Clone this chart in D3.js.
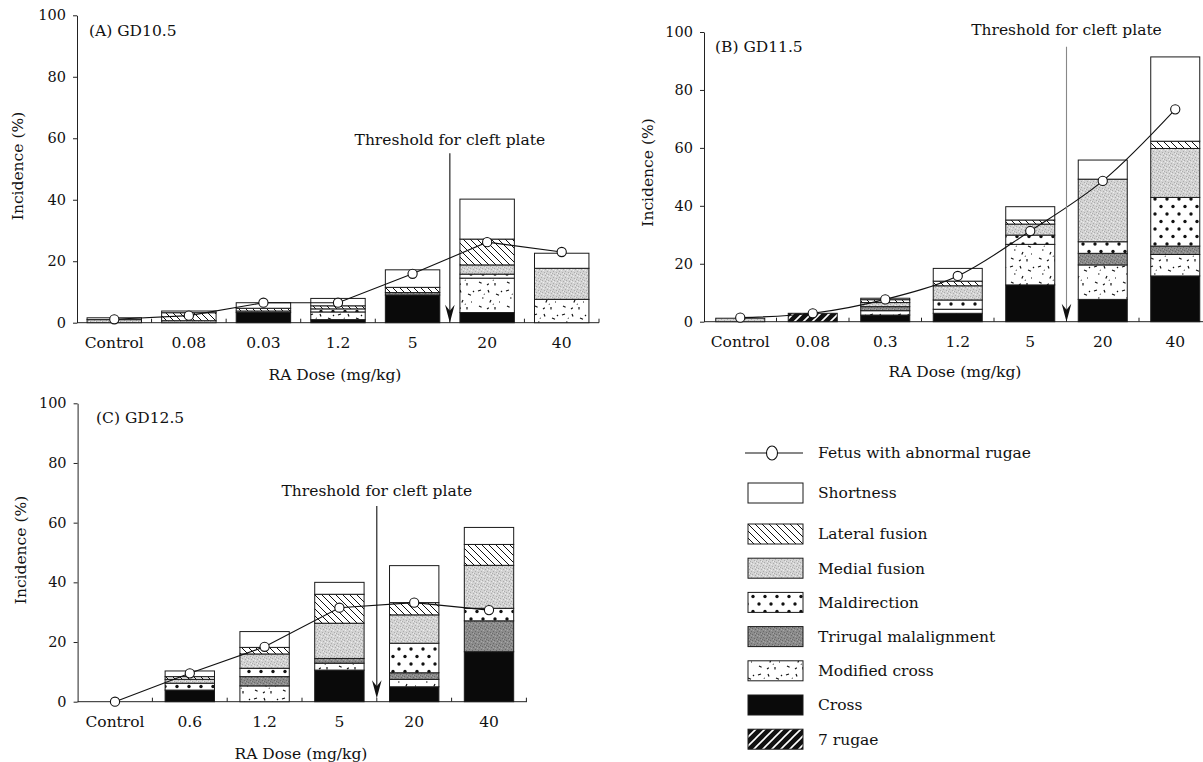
<!DOCTYPE html>
<html><head><meta charset="utf-8">
<script src="https://cdn.jsdelivr.net/npm/d3@7"></script>
<style>
html,body{margin:0;padding:0;background:#fff;}
svg{display:block;}
text{font-family:"DejaVu Serif",serif;fill:#111;}
</style></head><body>
<svg id="chart" width="1203" height="762"></svg>
<script>
// ---------------- DATA ----------------
const seriesKeys   = ["sevenRugae","cross","modifiedCross","trirugal","maldirection","medial","lateral","shortness"];
const seriesLabels = ["7 rugae","Cross","Modified cross","Trirugal malalignment","Maldirection","Medial fusion","Lateral fusion","Shortness"];
const lineLabel = "Fetus with abnormal rugae";
const yTickValues = [0,20,40,60,80,100];
const thresholdText = "Threshold for cleft plate";
const xTitle = "RA Dose (mg/kg)";
const yTitle = "Incidence (%)";

// Panel A  GD10.5
const categoriesA    = ["Control","0.08","0.03","1.2","5","20","40"];
const sevenRugaeA    = [0,   0,    0,   0,   0,   0,    0];
const crossA         = [0,   0,    3.3, 1.0, 9.0, 3.3,  0];
const modifiedCrossA = [0,   0,    0,   2.5, 0,   11.2, 7.6];
const trirugalA      = [0,   0,    0,   0,   0.8, 0,    0];
const maldirectionA  = [0,   0,    0,   1.0, 0,   1.3,  0];
const medialA        = [1.0, 0.65, 0.5, 0,   0,   3.0,  10.1];
const lateralA       = [0,   2.6,  0.9, 1.0, 1.7, 8.4,  0];
const shortnessA     = [0.6, 0.55, 1.8, 2.4, 5.7, 13.0, 4.9];
const abnormalA      = [1.1, 2.3,  6.5, 6.5, 15.9, 26.2, 23.0];

// Panel B  GD11.5
const categoriesB    = ["Control","0.08","0.3","1.2","5","20","40"];
const sevenRugaeB    = [0,   2.9, 0,   0,   0,    0,    0];
const crossB         = [0,   0,   2.3, 2.9, 12.7, 7.7,  15.8];
const modifiedCrossB = [0,   0,   1.5, 1.4, 14.0, 11.9, 7.4];
const trirugalB      = [0,   0,   1.4, 0,   0,    4.0,  2.9];
const maldirectionB  = [0,   0,   0,   3.2, 3.2,  4.0,  16.8];
const medialB        = [1.2, 0,   1.4, 4.9, 3.8,  21.6, 16.9];
const lateralB       = [0,   0,   1.0, 1.6, 1.4,  0,    2.5];
const shortnessB     = [0,   0,   0.5, 4.4, 4.6,  6.6,  29.1];
const abnormalB      = [1.4, 2.9, 7.7, 15.8, 31.3, 48.6, 73.3];

// Panel C  GD12.5
const categoriesC    = ["Control","0.6","1.2","5","20","40"];
const sevenRugaeC    = [0, 0,   0,   0,    0,    0];
const crossC         = [0, 3.9, 0,   10.6, 5.0,  16.75];
const modifiedCrossC = [0, 0,   5.3, 2.3,  2.5,  0];
const trirugalC      = [0, 0,   3.1, 1.6,  2.2,  10.35];
const maldirectionC  = [0, 2.3, 2.8, 0,    9.9,  4.2];
const medialC        = [0, 1.3, 4.8, 11.8, 9.5,  14.4];
const lateralC       = [0, 0.9, 2.2, 9.7,  4.1,  7.0];
const shortnessC     = [0, 1.9, 5.3, 4.0,  12.4, 5.7];
const abnormalC      = [0, 9.5, 18.4, 31.5, 33.2, 30.7];

// ---------------- DRAWING ----------------
const svg = d3.select("#chart");
svg.append("rect").attr("width",1203).attr("height",762).attr("fill","#fff");
const defs = svg.append("defs");

function pat(id, w, h) {
  return defs.append("pattern").attr("id", id).attr("patternUnits","userSpaceOnUse")
    .attr("width", w).attr("height", h);
}
pat("p-shortness", 4, 4).append("rect").attr("width",4).attr("height",4).attr("fill","#fff");
pat("p-cross", 4, 4).append("rect").attr("width",4).attr("height",4).attr("fill","#0a0a0a");
{ const p = pat("p-lateral", 7, 7);
  p.append("rect").attr("width",7).attr("height",7).attr("fill","#fff");
  p.append("path").attr("d","M-1,-1L8,8M-1,6L1,8M6,-1L8,1").attr("stroke","#111").attr("stroke-width",1); }
{ const p = pat("p-sevenRugae", 9, 9);
  p.append("rect").attr("width",9).attr("height",9).attr("fill","#111");
  p.append("path").attr("d","M-1,10L10,-1M-1,1L1,-1M8,10L10,8").attr("stroke","#fff").attr("stroke-width",1.6); }
{ const p = pat("p-maldirection", 12, 15);
  p.append("rect").attr("width",12).attr("height",15).attr("fill","#fff");
  p.append("circle").attr("cx",3).attr("cy",4).attr("r",1.7).attr("fill","#111");
  p.append("circle").attr("cx",9).attr("cy",11.5).attr("r",1.7).attr("fill","#111"); }
{ const p = pat("p-medial", 6, 6);
  p.append("rect").attr("width",6).attr("height",6).attr("fill","#d3d3d3");
  [[1,1],[4,2],[2,4],[5,5],[0,3]].forEach(([a,b]) => p.append("rect").attr("x",a).attr("y",b).attr("width",1).attr("height",1).attr("fill","#acacac"));
  [[3,0],[5,3],[1,5]].forEach(([a,b]) => p.append("rect").attr("x",a).attr("y",b).attr("width",1).attr("height",1).attr("fill","#ededed")); }
{ const p = pat("p-trirugal", 6, 6);
  p.append("rect").attr("width",6).attr("height",6).attr("fill","#8c8c8c");
  [[1,1],[4,2],[2,4],[5,5],[0,3]].forEach(([a,b]) => p.append("rect").attr("x",a).attr("y",b).attr("width",1).attr("height",1).attr("fill","#6a6a6a"));
  [[3,0],[5,3],[1,5]].forEach(([a,b]) => p.append("rect").attr("x",a).attr("y",b).attr("width",1).attr("height",1).attr("fill","#a8a8a8")); }
{ const p = pat("p-modifiedCross", 28, 24);
  p.append("rect").attr("width",28).attr("height",24).attr("fill","#fff");
  p.append("path").attr("d","M2,3l3,-1M12,2l1,2.5M20,6l3,1.2M6,10l1.5,0M15,12l-1.2,2.4M23,14l1,0M3,18l2.6,1.2M11,21l1.8,-1.2M19,19l0,2.6M25,3l1,1M8,6l0.5,0.5M17,16l0.5,0.5")
   .attr("stroke","#111").attr("stroke-width",1.2).attr("fill","none"); }

const panels = [
  {cats: categoriesA, vals:[sevenRugaeA,crossA,modifiedCrossA,trirugalA,maldirectionA,medialA,lateralA,shortnessA], line: abnormalA,
   x0:77, x1:599, y0:322.7, y100:15.3, barFrac:0.73, label:"(A) GD10.5", labelPos:[89,31], yTitlePos:[18,166], xTitlePos:[335,375],
   thrTextY:139.3, arrowTop:153.3, tipOffset:0, arrowColor:"#111", curve:d3.curveLinear, xEnd:599},
  {cats: categoriesB, vals:[sevenRugaeB,crossB,modifiedCrossB,trirugalB,maldirectionB,medialB,lateralB,shortnessB], line: abnormalB,
   x0:704, x1:1211.5, y0:321.7, y100:32, barFrac:0.676, label:"(B) GD11.5", labelPos:[715,46.7], yTitlePos:[648,172.5], xTitlePos:[955,371.7],
   thrTextY:29.3, arrowTop:46.7, tipOffset:0, arrowColor:"#888", curve:d3.curveCatmullRom.alpha(0.5), xEnd:1203},
  {cats: categoriesC, vals:[sevenRugaeC,crossC,modifiedCrossC,trirugalC,maldirectionC,medialC,lateralC,shortnessC], line: abnormalC,
   x0:77.6, x1:526.4, y0:701.7, y100:403.3, barFrac:0.66, label:"(C) GD12.5", labelPos:[96,417.7], yTitlePos:[21,550], xTitlePos:[301,753.3],
   thrTextY:491, arrowTop:506, tipOffset:3.5, arrowColor:"#111", curve:d3.curveLinear, xEnd:527}
];

panels.forEach(P => {
  const g = svg.append("g");
  const x = d3.scaleBand().domain(P.cats).range([P.x0, P.x1]).paddingInner(0).paddingOuter(0);
  const y = d3.scaleLinear().domain([0,100]).range([P.y0, P.y100]);
  const bw = x.bandwidth(), barW = bw * P.barFrac;
  const cx = d => x(d) + bw/2;

  const rows = P.cats.map((c,i) => { const r = {cat:c}; seriesKeys.forEach((k,j)=> r[k] = P.vals[j][i]); return r; });
  const stacked = d3.stack().keys(seriesKeys)(rows);

  const yAxis = d3.axisLeft(y).tickValues(yTickValues).tickSize(4).tickSizeOuter(0).tickPadding(7);
  const ya = g.append("g").attr("transform",`translate(${P.x0},0)`).call(yAxis);
  ya.select(".domain").attr("stroke","#222");
  ya.selectAll(".tick line").attr("stroke","#222");
  ya.selectAll("text").attr("font-family","DejaVu Serif").attr("font-size",14.5).attr("fill","#111");

  g.append("line").attr("x1",P.x0).attr("x2",P.xEnd).attr("y1",P.y0).attr("y2",P.y0).attr("stroke","#222");
  const bounds = P.cats.map(c => x(c)).slice(1).concat([P.x1]);
  g.selectAll(".xt").data(bounds).join("line")
    .attr("x1",d=>d).attr("x2",d=>d).attr("y1",P.y0).attr("y2",P.y0-4).attr("stroke","#222");
  g.selectAll(".xl").data(P.cats).join("text")
    .attr("x",d=>cx(d)).attr("y",P.y0+20).attr("dy","0.35em").attr("text-anchor","middle")
    .attr("font-size",15.5).text(d=>d);

  stacked.forEach(layer => {
    const key = layer.key;
    g.selectAll(null).data(layer.filter(d => d[1]-d[0] > 0)).join("rect")
      .attr("x", d => cx(d.data.cat) - barW/2)
      .attr("width", barW)
      .attr("y", d => y(d[1]))
      .attr("height", d => y(d[0]) - y(d[1]))
      .attr("fill", `url(#p-${key})`)
      .attr("stroke","#1a1a1a").attr("stroke-width",1);
  });

  const lineGen = d3.line().x((d,i)=>cx(P.cats[i])).y(d=>y(d)).curve(P.curve);
  g.append("path").attr("d", lineGen(P.line)).attr("fill","none").attr("stroke","#111").attr("stroke-width",1.1);
  g.selectAll(".pt").data(P.line).join("circle")
    .attr("cx",(d,i)=>cx(P.cats[i])).attr("cy",d=>y(d)).attr("r",4.6)
    .attr("fill","#fff").attr("stroke","#111").attr("stroke-width",1.1);

  const ax = x("20");
  const tip = P.y0 - P.tipOffset;
  g.append("line").attr("x1",ax).attr("x2",ax).attr("y1",P.arrowTop).attr("y2",tip-8).attr("stroke",P.arrowColor).attr("stroke-width",1.1);
  g.append("path").attr("d",`M${ax},${tip}L${ax-4.8},${tip-18}L${ax},${tip-12}L${ax+4.8},${tip-18}Z`).attr("fill","#111");
  g.append("text").attr("x",ax).attr("y",P.thrTextY).attr("dy","0.35em").attr("text-anchor","middle")
    .attr("font-size",15.5).text(thresholdText);

  g.append("text").attr("x",P.labelPos[0]).attr("y",P.labelPos[1]).attr("dy","0.35em").attr("font-size",15.5).text(P.label);
  g.append("text").attr("transform",`translate(${P.yTitlePos[0]},${P.yTitlePos[1]}) rotate(-90)`).attr("dy","0.35em")
    .attr("text-anchor","middle").attr("font-size",15.5).text(yTitle);
  g.append("text").attr("x",P.xTitlePos[0]).attr("y",P.xTitlePos[1]).attr("dy","0.35em").attr("text-anchor","middle")
    .attr("font-size",15.5).text(xTitle);
});

// ---------------- LEGEND ----------------
const lg = svg.append("g");
lg.append("line").attr("x1",745).attr("x2",803).attr("y1",453).attr("y2",453).attr("stroke","#111").attr("stroke-width",1.1);
lg.append("ellipse").attr("cx",772).attr("cy",453).attr("rx",5.5).attr("ry",7).attr("fill","#fff").attr("stroke","#111").attr("stroke-width",1.1);
lg.append("text").attr("x",818).attr("y",453).attr("dy","0.35em").attr("font-size",15.5).text(lineLabel);

const legendKeys = seriesKeys.slice().reverse();
const legendNames = seriesLabels.slice().reverse();
const rowY = i => i === 0 ? 493 : 534 + (i-1)*34.2;
legendKeys.forEach((k,i) => {
  lg.append("rect").attr("x",748).attr("y",rowY(i)-10).attr("width",55).attr("height",20)
    .attr("fill",`url(#p-${k})`).attr("stroke","#1a1a1a").attr("stroke-width",1);
  lg.append("text").attr("x",818).attr("y",rowY(i)).attr("dy","0.35em").attr("font-size",15.5).text(legendNames[i]);
});
</script>
</body></html>
